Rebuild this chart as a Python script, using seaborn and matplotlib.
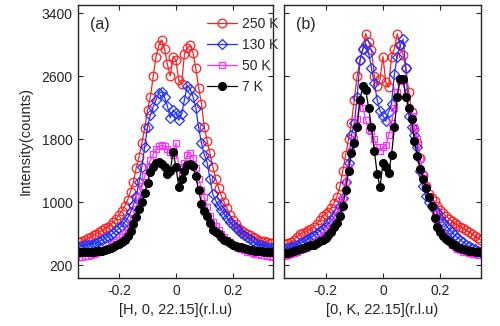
import numpy as np
import pandas as pd
import seaborn as sns
import matplotlib
matplotlib.use("Agg")
import matplotlib.pyplot as plt

# x grid (r.l.u.)
q = [round(-0.34 + 0.01 * i, 2) for i in range(69)]

# Panel (a): [H, 0, 22.15]
a_250 = [490, 505, 520, 540, 560, 580, 600, 625, 645, 665, 690, 715, 750, 790, 840, 890, 950, 1030, 1130, 1250,
         1432, 1575, 1749, 1940, 2168, 2337, 2600, 2850, 2990, 3060, 2950, 2750, 2600, 2850, 2800, 2550, 2500, 2880,
         2960, 2990, 2900, 2700, 2450, 2250, 1950, 1780, 1620, 1450, 1300, 1180, 1080, 1000, 920, 840, 770, 720, 670,
         640, 615, 595, 580, 560, 545, 525, 510, 500, 490, 480, 475]
a_130 = [430, 440, 450, 455, 460, 470, 480, 500, 520, 540, 560, 580, 610, 640, 670, 700, 750, 800, 870, 960,
         1080, 1250, 1450, 1700, 1956, 2105, 2210, 2300, 2390, 2400, 2330, 2220, 2070, 2170, 2130, 2040, 2120, 2300,
         2480, 2440, 2340, 2200, 1950, 1750, 1600, 1500, 1300, 1100, 1020, 960, 900, 850, 800, 750, 710, 680, 640,
         610, 580, 560, 530, 500, 480, 460, 450, 440, 430, 420, 410]
a_50 = [300, 300, 310, 320, 330, 340, 350, 360, 380, 400, 420, 440, 465, 490, 520, 560, 610, 650, 720, 800,
        910, 1067, 1200, 1330, 1450, 1530, 1610, 1680, 1710, 1720, 1710, 1680, 1640, 1600, 1750, 1450, 1380, 1500,
        1600, 1620, 1560, 1430, 1300, 1160, 1060, 940, 830, 750, 700, 650, 600, 560, 520, 490, 460, 440, 420,
        405, 390, 370, 360, 350, 340, 335, 330, 325, 320, 310, 300]
a_7 = [370, 370, 365, 370, 370, 370, 375, 380, 385, 390, 400, 415, 430, 450, 470, 490, 520, 570, 630, 720,
       810, 910, 1000, 1110, 1240, 1380, 1440, 1500, 1510, 1490, 1440, 1360, 1400, 1640, 1450, 1190, 1300, 1400,
       1470, 1490, 1460, 1330, 1150, 980, 890, 820, 740, 640, 620, 590, 560, 520, 500, 480, 460, 445, 435,
       425, 415, 405, 395, 390, 385, 380, 375, 372, 370, 368, 365]

# Panel (b): [0, K, 22.15]
b_250 = [470, 475, 490, 520, 560, 590, 610, 620, 640, 660, 690, 720, 770, 820, 850, 880, 930, 990, 1070, 1200,
         1400, 1600, 1800, 2000, 2300, 2600, 2800, 2950, 3140, 3040, 2930, 2600, 2480, 2560, 2850, 2520, 2460, 2850,
         2950, 3140, 2990, 2870, 2700, 2400, 2150, 1930, 1750, 1560, 1350, 1200, 1100, 1050, 1010, 950, 900, 860,
         820, 790, 760, 730, 710, 690, 670, 640, 620, 600, 570, 540, 520]
b_130 = [410, 420, 430, 440, 455, 475, 495, 515, 535, 555, 575, 605, 635, 660, 690, 730, 770, 810, 870, 950,
         1050, 1250, 1500, 1850, 2000, 2330, 2800, 2950, 3010, 2900, 2700, 2510, 2300, 2160, 2100, 2030, 2150, 2250,
         2630, 2850, 2990, 3070, 2700, 2100, 1950, 1850, 1700, 1400, 1200, 1080, 1000, 950, 900, 860, 800, 750,
         700, 660, 620, 580, 550, 520, 490, 460, 440, 420, 400, 385, 370]
b_50 = [320, 330, 340, 355, 370, 390, 405, 420, 440, 460, 480, 510, 540, 570, 600, 640, 690, 750, 820, 920,
        1050, 1250, 1450, 1650, 1800, 2050, 2300, 2200, 2040, 1920, 1900, 1800, 1700, 1650, 1700, 1720, 1850, 2000,
        2200, 2400, 2540, 2550, 2350, 2200, 2100, 1950, 1800, 1550, 1350, 1200, 1080, 980, 850, 730, 650, 590,
        540, 500, 460, 430, 410, 390, 370, 360, 350, 340, 335, 330, 325]
b_7 = [350, 355, 365, 375, 390, 410, 420, 430, 440, 450, 460, 480, 500, 520, 545, 580, 620, 680, 740, 830,
       950, 1150, 1400, 1620, 1750, 1950, 2300, 2480, 2420, 2200, 1950, 1650, 1360, 1190, 1500, 1450, 1370, 1600,
       1950, 2340, 2570, 2570, 2330, 2190, 2050, 1780, 1580, 1420, 1300, 1180, 1060, 950, 800, 680, 620, 570,
       530, 500, 470, 450, 430, 415, 400, 390, 380, 375, 370, 365, 360]

labels = ["250 K", "130 K", "50 K", "7 K"]
xlabels = ["[H, 0, 22.15](r.l.u)", "[0, K, 22.15](r.l.u)"]
yticks = [200, 1000, 1800, 2600, 3400]
xticks = [-0.2, 0, 0.2]
xticklabels = ["-0.2", "0", "0.2"]

colors = ["#ff2020", "#2030ff", "#ff30ff", "black"]
markers = ["o", "D", "s", "o"]
faces = ["none", "none", "none", "black"]
msizes = [6.2, 4.6, 4.8, 5.6]

sns.set_style("ticks")
plt.rcParams['font.family'] = ['Liberation Sans', 'DejaVu Sans']
plt.rcParams['axes.unicode_minus'] = False

fig = plt.figure(figsize=(5.0, 3.26), dpi=100)
ax1 = fig.add_axes([0.156, 0.147, 0.390, 0.839])
ax2 = fig.add_axes([0.568, 0.147, 0.394, 0.839])

panels = [(ax1, [a_250, a_130, a_50, a_7], "(a)"), (ax2, [b_250, b_130, b_50, b_7], "(b)")]
for i, (ax, series, tag) in enumerate(panels):
    for k, (lab, ys) in enumerate(zip(labels, series)):
        df = pd.DataFrame({"q": q, "I": ys})
        sns.lineplot(data=df, x="q", y="I", ax=ax, linewidth=0.9,
                     label=lab if i == 0 else None, sort=False, estimator=None,
                     color=colors[k], marker=markers[k],
                     markerfacecolor=faces[k], markeredgecolor=colors[k],
                     markersize=msizes[k], markeredgewidth=0.9)
    ax.set_xlim(-0.345, 0.342)
    ax.set_ylim(35, 3510)
    ax.set_xticks(xticks)
    ax.set_xticklabels(xticklabels)
    ax.set_yticks(yticks)
    ax.tick_params(direction="in", top=True, right=True, length=3.5, width=0.8,
                   labelsize=10, pad=4)
    ax.set_xlabel(xlabels[i], fontsize=10.5, labelpad=4)
    ax.set_ylabel("")
    for s in ax.spines.values():
        s.set_linewidth(1.0)
    ax.text(0.06, 0.955, tag, transform=ax.transAxes, fontsize=11.5, va="top", ha="left")

ax2.set_yticklabels([])
ax1.set_ylabel("Intensity(counts)", fontsize=10.5, labelpad=6)
leg = ax1.legend(loc="upper right", frameon=False, fontsize=10, handlelength=2.2,
                 handletextpad=0.35, labelspacing=0.5, borderaxespad=0.0,
                 borderpad=0.0, bbox_to_anchor=(1.03, 0.955))
if ax2.get_legend() is not None:
    ax2.get_legend().remove()

fig.savefig("out.png", dpi=100)
